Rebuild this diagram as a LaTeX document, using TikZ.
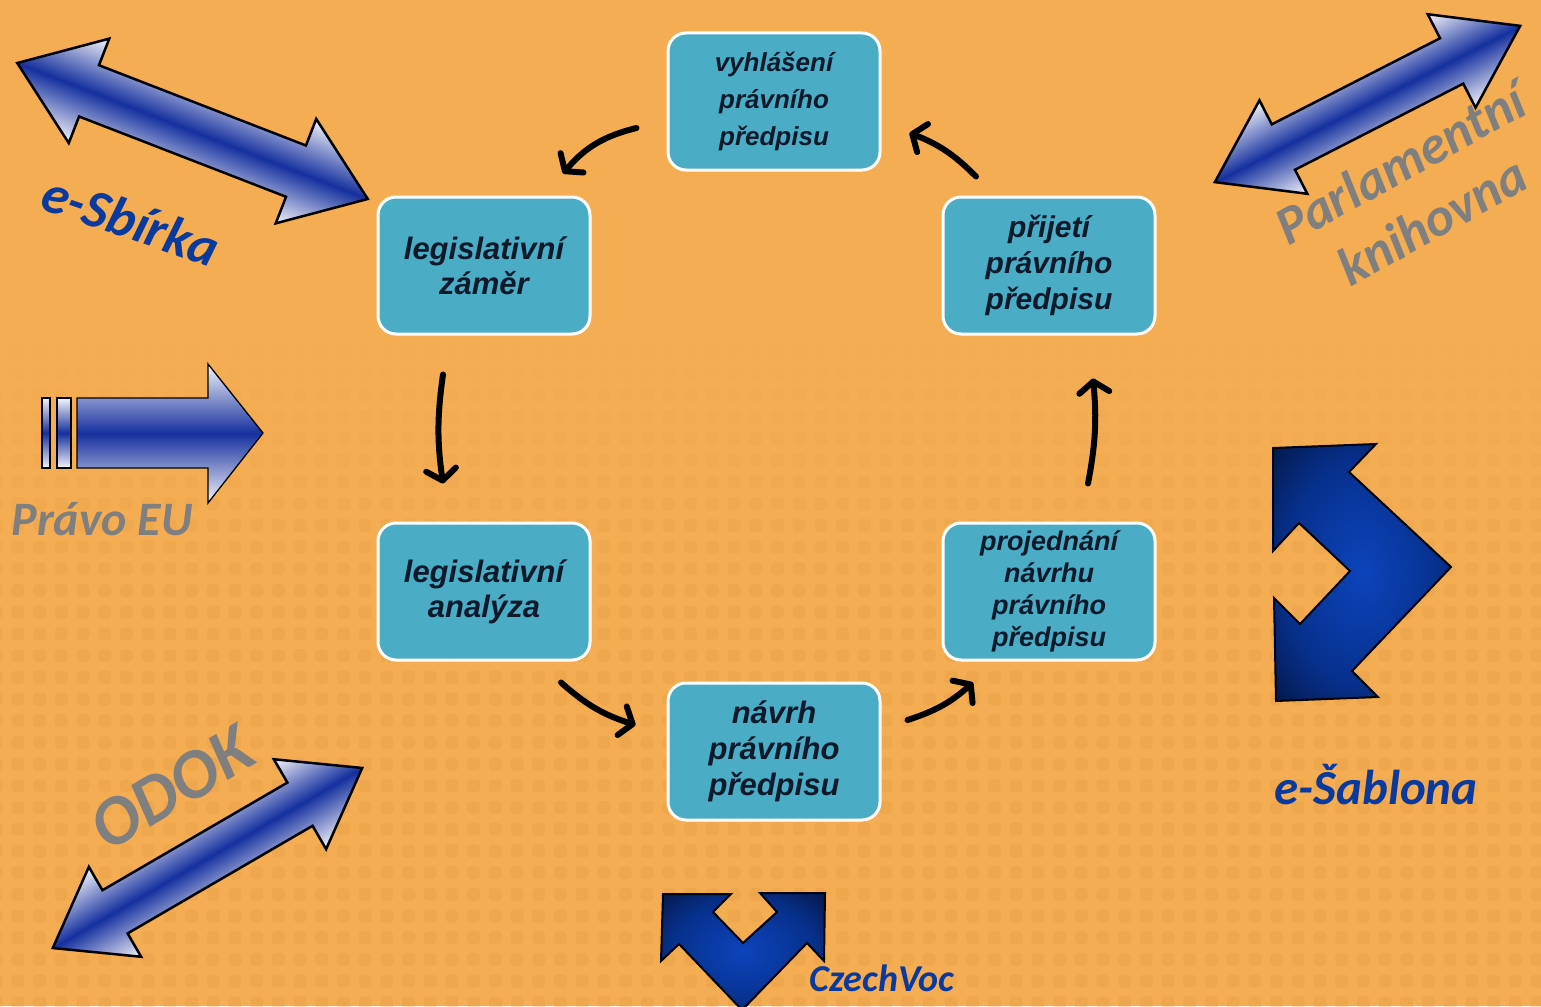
\documentclass[tikz,border=0pt]{standalone}
\usepackage{fontspec}
\setmainfont{Liberation Sans}
\newfontfamily\carlito{Carlito}
\usetikzlibrary{arrows.meta,calc}
\definecolor{bg}{HTML}{F4AD53}
\definecolor{bgdot}{HTML}{E39A3E}
\definecolor{boxfill}{HTML}{4BACC6}
\definecolor{txt}{HTML}{0E1A2B}
\definecolor{arrblue}{HTML}{15309E}
\definecolor{arrlight}{HTML}{F4F4FA}
\definecolor{lblblue}{HTML}{0A3A9E}
\definecolor{lblgray}{HTML}{7F7F7F}
\definecolor{navyin}{HTML}{0C44BC}
\definecolor{navymid}{HTML}{07308C}
\definecolor{navyout}{HTML}{020C28}
\pgfdeclareradialshading{navyshade}{\pgfpoint{0bp}{0bp}}{color(0bp)=(navyin); color(22bp)=(navymid); color(42bp)=(navyout); color(50bp)=(navyout)}
\newcommand\bfitsz[2]{\fontsize{#1}{#2}\selectfont\bfseries\itshape}
\newcommand\lblfont[2]{\carlito\fontsize{#1}{#2}\selectfont\bfseries\itshape}
% cx cy angle L H S K
\newcommand\dblarr[7]{%
 \begin{scope}[transform canvas={shift={(#1,#2)},rotate=#3}]
 \shade[top color=arrlight, bottom color=arrlight, middle color=arrblue, draw=black, line width=2.5pt, line join=miter]
 ({-#4/2},0) -- ({-#4/2+#7},{-#5/2}) -- ({-#4/2+#7},{-#6/2}) -- ({#4/2-#7},{-#6/2}) -- ({#4/2-#7},{-#5/2})
 -- ({#4/2},0) -- ({#4/2-#7},{#5/2}) -- ({#4/2-#7},{#6/2}) -- ({-#4/2+#7},{#6/2}) -- ({-#4/2+#7},{#5/2}) -- cycle;
 \end{scope}}
\tikzset{
 stepbox/.style={draw=white, line width=3pt, fill=boxfill, rounded corners=18pt,
   minimum width=212pt, minimum height=137pt, align=center, text=txt, inner sep=0pt},
 conn/.style={draw=black, line width=6pt, line cap=round,
   -{Straight Barb[length=11pt,width=30pt,line width=6pt,round]}},
 lbl/.style={inner sep=0pt, align=center},
 navyshape/.style={shading=navyshade, draw=black, line width=2pt, line join=miter},
 arrshade/.style={top color=arrlight, bottom color=arrlight, middle color=arrblue, draw=black, line width=1.3pt},
}
\begin{document}
\begin{tikzpicture}[x=1pt,y=-1pt]
\fill[bg] (0,0) rectangle (1541,1006);
\useasboundingbox (0,0) rectangle (1541,1006);
% background texture
\foreach \j in {0,...,31}{
  \pgfmathsetmacro\op{min(1,\j/12)*0.28}
  \foreach \i in {0,...,71}{
    \fill[bgdot, opacity=\op, rounded corners=4pt] ({-10.3+\i*21.7},{323.6+\j*21.7}) rectangle ++(13,13);
  }
}

% process boxes
\node[stepbox, font=\bfitsz{26}{37}] (vyh) at (774,101.5) {vyhlášení\\právního\\předpisu};
\node[stepbox, font=\bfitsz{31}{35}] (zam) at (484,265.5) {legislativní\\záměr};
\node[stepbox, font=\bfitsz{30}{36}] (pri) at (1049,265.5) {přijetí\\právního\\předpisu};
\node[stepbox, font=\bfitsz{31}{35}] (ana) at (484,591.5) {legislativní\\analýza};
\node[stepbox, font=\bfitsz{27}{32}] (pro) at (1049,591.5) {projednání\\návrhu\\právního\\předpisu};
\node[stepbox, font=\bfitsz{31}{36}] (nav) at (774,751.5) {návrh\\právního\\předpisu};

% cycle connectors
\draw[conn] ($(vyh.west)+(-30,26.5)$) to[bend right=18] ($(zam.north)+(79,-22)$);
\draw[conn] ($(zam.south)+(-41,39)$) to[bend right=8] ($(ana.north)+(-41,-38)$);
\draw[conn] ($(ana.south)+(77,21)$) to[bend right=12] ($(nav.west)+(-31,-26.5)$);
\draw[conn] ($(nav.east)+(26,-31.5)$) to[bend right=12] ($(pro.south)+(-76,21)$);
\draw[conn] ($(pro.north)+(39,-38)$) to[bend right=8] ($(pri.south)+(44,43)$);
\draw[conn] ($(pri.north)+(-73,-19)$) to[bend right=12] ($(vyh.east)+(28,31.5)$);

% double arrows
\dblarr{192.5}{131}{-21.2}{376}{112}{55}{77}
\dblarr{1367.5}{104}{27.1}{343}{105}{51}{77}
\dblarr{207.5}{858}{30.2}{358}{104}{50}{72}

% Pravo EU arrow
\shade[arrshade] (77,398) -- (208,398) -- (208,364) -- (263,433) -- (208,503) -- (208,468) -- (77,468) -- cycle;
\shade[arrshade] (42,398) rectangle (50,468);
\shade[arrshade] (57,398) rectangle (71,468);

% e-Sablona shape
\shade[navyshape]
 (1273,448) -- (1376,444) -- (1349,472) -- (1451,567) -- (1352,671) -- (1378,697) -- (1276,701)
 -- (1274,598) -- (1300,624) -- (1350,571) -- (1299,523) -- (1273,551) -- cycle;

% CzechVoc shape
\shade[navyshape]
 (663,894) -- (731,894) -- (713,912) -- (743,943) -- (777,912) -- (760,893) -- (825,893)
 -- (824,961) -- (807,943) -- (742,1010) -- (679,944) -- (661,961) -- cycle;

% labels
\node[lbl, font=\lblfont{54}{60}, text=lblblue, rotate=-19] (esb) at (131,220) {e-Sbírka};
\node[lbl, font=\lblfont{54}{66}, text=lblgray, rotate=29] (par) at (1416,192) {Parlamentní\\knihovna};
\node[lbl, font=\lblfont{48}{56}, text=lblgray] (peu) at (102,519) {Právo EU};
\node[lbl, font=\lblfont{70}{80}, text=lblgray, rotate=31] (odok) at (172,788) {ODOK};
\node[lbl, font=\lblfont{49}{56}, text=lblblue] (esab) at (1376,785) {e-Šablona};
\node[lbl, font=\lblfont{38}{44}, text=lblblue] (cv) at (882,978) {CzechVoc};
\end{tikzpicture}
\end{document}
